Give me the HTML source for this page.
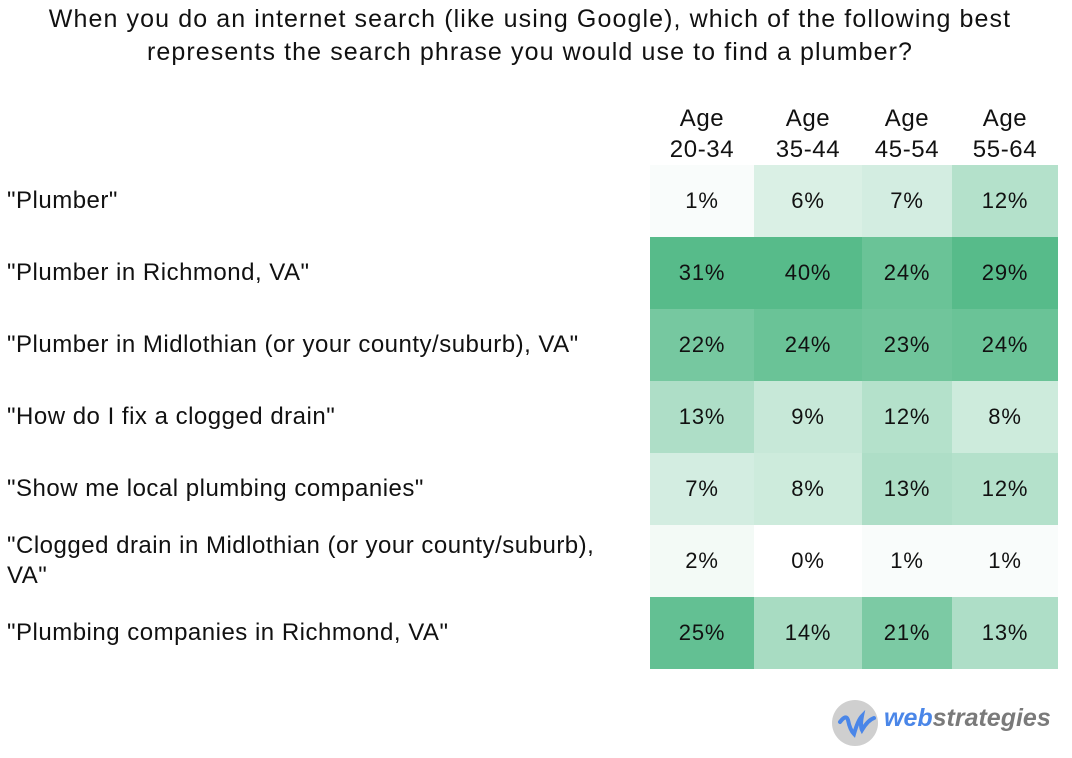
<!DOCTYPE html>
<html><head><meta charset="utf-8"><style>
body{margin:0;width:1072px;height:758px;background:#fff;font-family:"Liberation Sans",sans-serif;color:#111;overflow:hidden;position:relative}
.t{position:absolute;white-space:nowrap}
</style></head><body>
<div class="t" style="left:0;width:1060px;top:3px;text-align:center;font-size:25px;letter-spacing:1.1px;line-height:33px">When you do an internet search (like using Google), which of the following best<br>represents the search phrase you would use to find a plumber?</div>
<div id="heat"></div>
<div style="position:absolute;left:832px;top:698px;width:230px;height:50px">
<div style="position:absolute;left:0;top:2px;width:46px;height:46px;border-radius:50%;background:#cfcfcf"></div>
<svg style="position:absolute;left:0;top:2px" width="46" height="46"><path d="M8 22 Q14 14 16 20 Q18 30 22 34 Q26 20 30 16 Q28 26 30 30 Q36 20 42 18" stroke="#4a86e8" stroke-width="4" fill="none" stroke-linecap="round"/></svg>
<div class="t" style="left:52px;top:6px;font-size:25px;font-weight:bold;font-style:italic"><span style="color:#4a86e8">web</span><span style="color:#7a7a7a">strategies</span></div>
</div>
<script>
const categories=['"Plumber"','"Plumber in Richmond, VA"','"Plumber in Midlothian (or your county/suburb), VA"','"How do I fix a clogged drain"','"Show me local plumbing companies"','"Clogged drain in Midlothian (or your county/suburb),<br>VA"','"Plumbing companies in Richmond, VA"'];
const ageGroups=['20-34','35-44','45-54','55-64'];
const age2034=[1,31,22,13,7,2,25];
const age3544=[6,40,24,9,8,0,14];
const age4554=[7,24,23,12,13,1,21];
const age5564=[12,29,24,8,12,1,13];
const series=[age2034,age3544,age4554,age5564];
const colX=[650,754,862,952,1058];
const top0=165,rowH=72;
const heat=document.getElementById('heat');
function color(v){const t=Math.min(v/27,1);const c=[87,187,138];return 'rgb('+c.map(x=>Math.round(255+(x-255)*t)).join(',')+')';}
ageGroups.forEach((g,j)=>{
const h=document.createElement('div');


h.className='t';
h.style.cssText=`left:${colX[j]}px;width:${colX[j+1]-colX[j]}px;top:103px;text-align:center;font-size:24px;letter-spacing:0.6px;line-height:31px`;
h.innerHTML='Age<br>'+g;heat.appendChild(h);});
categories.forEach((c,i)=>{
const l=document.createElement('div');


l.className='t';
l.style.cssText=`left:7px;top:${top0+i*rowH}px;height:${rowH}px;display:flex;align-items:center;font-size:24px;letter-spacing:0.5px;line-height:30px`;
l.innerHTML='<span>'+c+'</span>';heat.appendChild(l);
series.forEach((s,j)=>{
const d=document.createElement('div');


d.className='t';
d.style.cssText=`left:${colX[j]}px;width:${colX[j+1]-colX[j]}px;top:${top0+i*rowH}px;height:${rowH}px;line-height:${rowH}px;text-align:center;font-size:22px;letter-spacing:0.8px;background:${color(s[i])}`;
d.textContent=s[i]+'%';heat.appendChild(d);});
});
</script>
</body></html>
